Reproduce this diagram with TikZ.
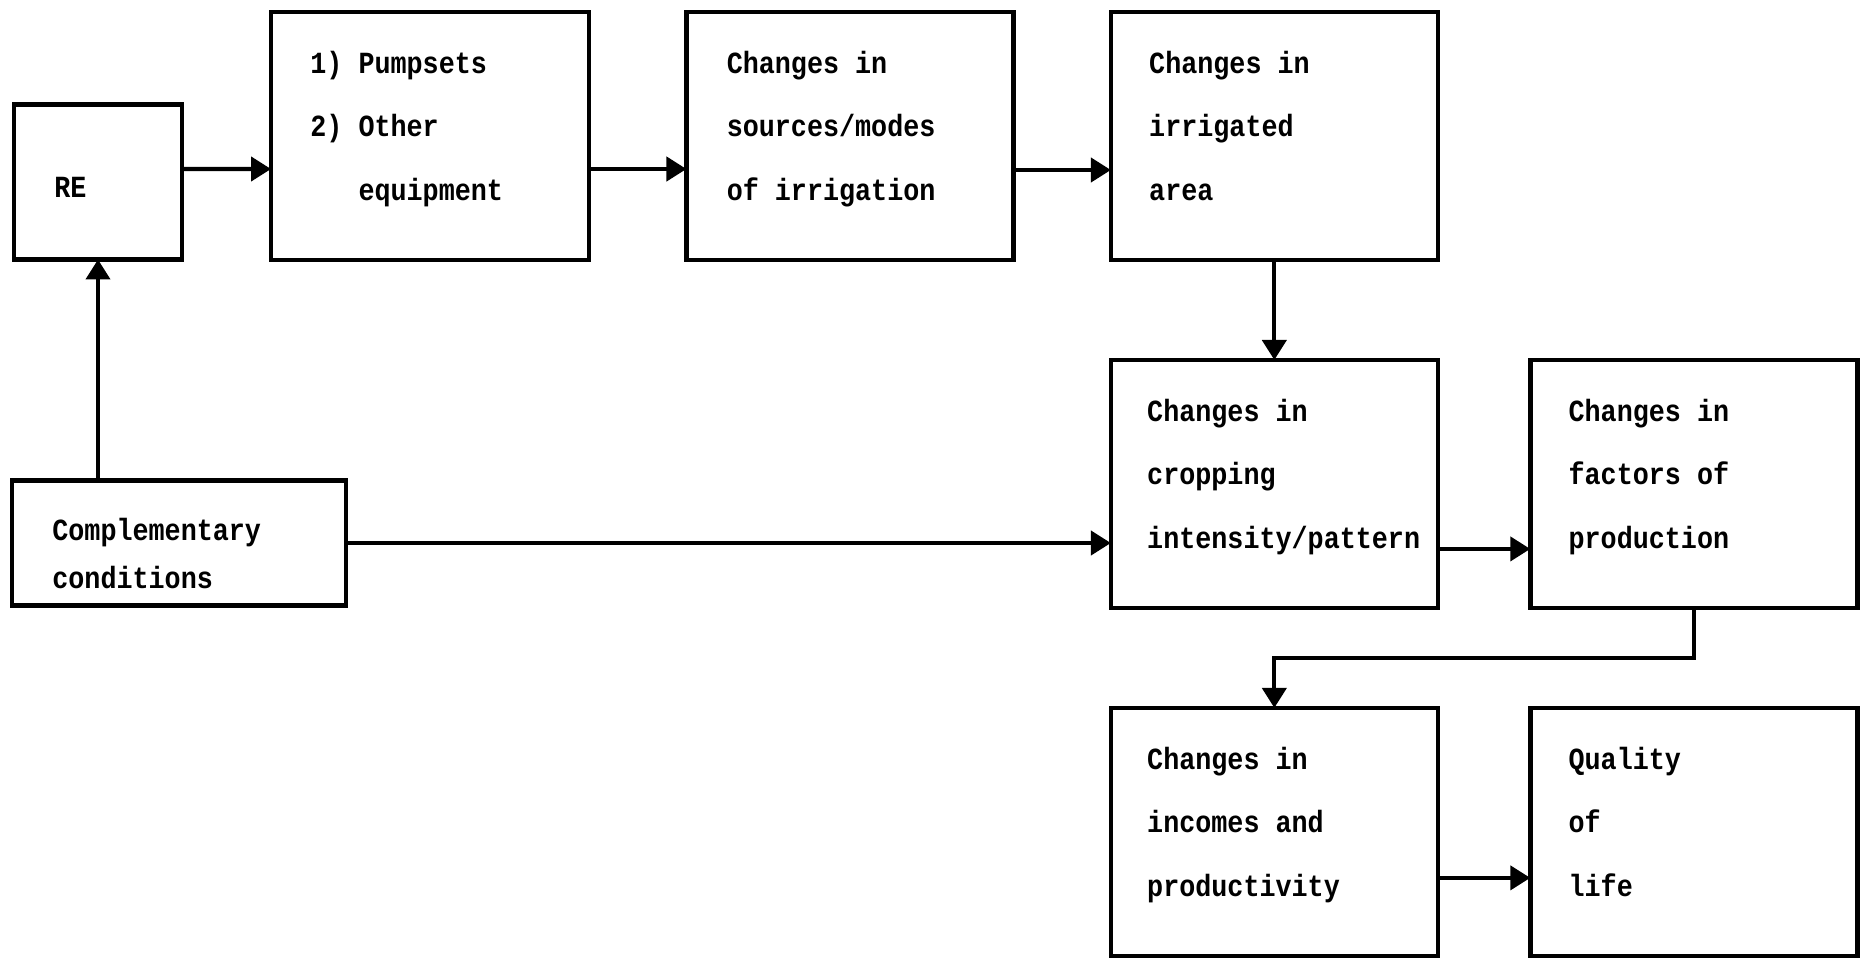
\documentclass[tikz,border=0pt]{standalone}
\usepackage{fontspec}
\newfontfamily\typefont{Liberation Mono}[FakeStretch=0.87]
\usetikzlibrary{positioning, arrows.meta}

\begin{document}
\begin{tikzpicture}[
    x=0.02cm, y=-0.02cm,
    node distance=2cm and 1.95cm,
    box/.style={rectangle, draw=black, line width=2.6pt, outer sep=0pt, minimum width=6.54cm, minimum height=4.96cm, inner sep=0pt},
    lbl/.style={align=left, inner sep=0pt, font={\typefont\bfseries\fontsize{17.5}{36}\selectfont}},
    arrow/.style={-{Triangle[length=0.4cm, width=0.48cm]}, line width=2.4pt}
]
\useasboundingbox (0,0) rectangle (1870,958);

% Boxes
\node[box, minimum width=3.36cm, minimum height=3.1cm] (re) at (98,182) {};
\node[box, minimum width=6.36cm] (pump) at (430,136) {};
\node[box, right=of pump] (src) {};
\node[box, right=of src] (irr) {};
\node[box, below=of irr] (crop) {};
\node[box, right=1.85cm of crop] (fac) {};
\node[box, below=of crop] (inc) {};
\node[box, right=1.85cm of inc] (qol) {};
\node[box, minimum width=6.68cm, minimum height=2.5cm] (comp) at (179,543) {};

% Texts
\node[lbl, below right=1.45cm and 0.8cm of re.north west] (retxt) {RE};
\node[lbl, below right=0.78cm and 0.78cm of pump.north west] (pumptxt) {1)~Pumpsets\\2)~Other\\\phantom{2)~}equipment};
\node[lbl, below right=0.78cm and 0.8cm of src.north west] (srctxt) {Changes in\\sources/modes\\of irrigation};
\node[lbl, below right=0.78cm and 0.76cm of irr.north west] (irrtxt) {Changes in\\irrigated\\area};
\node[lbl, below right=0.78cm and 0.72cm of crop.north west] (croptxt) {Changes in\\cropping\\intensity/pattern};
\node[lbl, below right=0.78cm and 0.76cm of fac.north west] (factxt) {Changes in\\factors of\\production};
\node[lbl, below right=0.78cm and 0.72cm of inc.north west] (inctxt) {Changes in\\incomes and\\productivity};
\node[lbl, below right=0.78cm and 0.76cm of qol.north west] (qoltxt) {Quality\\of\\life};
\node[lbl, font={\typefont\bfseries\fontsize{17.5}{27}\selectfont}, below right=0.75cm and 0.8cm of comp.north west] (comptxt) {Complementary\\conditions};

% Arrows
\draw[arrow] ([yshift=.26cm]re.east) -- ([yshift=-.66cm]pump.west);
\draw[arrow] ([yshift=-.66cm]pump.east) -- ([yshift=-.66cm]src.west);
\draw[arrow] ([yshift=-.68cm]src.east) -- ([yshift=-.68cm]irr.west);
\draw[arrow] (irr.south) -- (crop.north);
\draw[arrow] (comp.north -| re.south) -- (re.south);
\draw[arrow] (comp.east) -- (comp.east -| crop.west);
\draw[arrow] ([yshift=-1.3cm]crop.east) -- ([yshift=-1.3cm]fac.west);
\draw[arrow] (fac.south) -- ++(0,-1cm) -| (inc.north);
\draw[arrow] ([yshift=-.92cm]inc.east) -- ([yshift=-.92cm]qol.west);

\end{tikzpicture}
\end{document}
